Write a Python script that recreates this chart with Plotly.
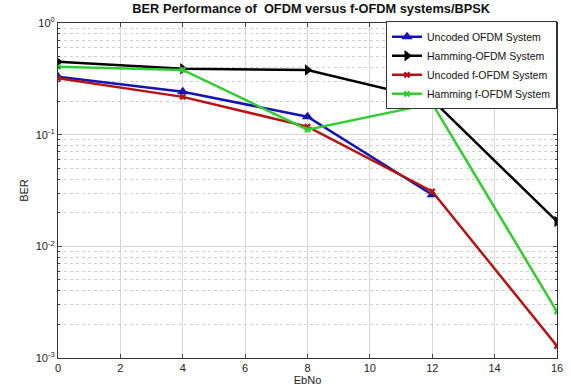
import plotly.graph_objects as go

ebno = [0, 4, 8, 12, 16]
uncoded_ofdm = [0.33, 0.242, 0.145, 0.029, None]
hamming_ofdm = [0.449, 0.389, 0.38, 0.205, 0.0167]
uncoded_fofdm = [0.32, 0.218, 0.118, 0.031, 0.00128]
hamming_fofdm = [0.405, 0.38, 0.111, 0.19, 0.0026]

x_ticks = [0, 2, 4, 6, 8, 10, 12, 14, 16]
y_tickvals = [1e-3, 1e-2, 1e-1, 1]
y_ticktext = ["10<sup>-3</sup>", "10<sup>-2</sup>", "10<sup>-1</sup>", "10<sup>0</sup>"]

series = [
    ("Uncoded OFDM System", uncoded_ofdm, "#1414b4", "triangle-up", 10),
    ("Hamming-OFDM System", hamming_ofdm, "#000000", "triangle-right", 10),
    ("Uncoded f-OFDM System", uncoded_fofdm, "#b41414", "x", 6),
    ("Hamming f-OFDM System", hamming_fofdm, "#33cc33", "x", 6),
]

fig = go.Figure()
for name, vals, color, sym, size in series:
    fig.add_trace(go.Scatter(
        x=ebno, y=vals, name=name, mode="lines+markers",
        line=dict(color=color, width=2.5),
        marker=dict(symbol=sym, size=size, color=color),
        connectgaps=False,
    ))

fig.update_layout(
    width=571, height=392,
    margin=dict(l=58, r=8, t=23, b=34),
    paper_bgcolor="white", plot_bgcolor="white",
    font=dict(family="Liberation Sans, Arial, sans-serif", size=11, color="#222"),
    title=dict(text="<b>BER Performance of  OFDM versus f-OFDM systems/BPSK</b>",
               x=0.545, xanchor="center", y=0.99, yanchor="top",
               font=dict(size=12.8, color="#111")),
    legend=dict(x=1, xanchor="right", y=1.005, yanchor="top",
                bgcolor="white", bordercolor="#333", borderwidth=1,
                font=dict(size=10.5, color="#111"), tracegroupgap=0,
                itemwidth=30),
    showlegend=True,
)
fig.update_xaxes(
    range=[0, 16], tickvals=x_ticks, ticks="inside", ticklen=4,
    showline=True, linecolor="#333", linewidth=1, mirror="ticks",
    showgrid=True, gridcolor="#d6d6d6", zeroline=False,
    title=dict(text="EbNo", standoff=2, font=dict(size=11)),
    tickfont=dict(size=11),
)
fig.update_yaxes(
    type="log", range=[-3, 0], tickvals=y_tickvals, ticktext=y_ticktext,
    ticks="inside", ticklen=4,
    showline=True, linecolor="#333", linewidth=1, mirror="ticks",
    showgrid=True, gridcolor="#d6d6d6", zeroline=False,
    minor=dict(showgrid=True, gridcolor="#d0d0d0", griddash="dot",
               ticks="inside", ticklen=2, dtick="D1"),
    title=dict(text="BER", standoff=4, font=dict(size=11)),
    tickfont=dict(size=11),
)

fig.write_html("out.html")
